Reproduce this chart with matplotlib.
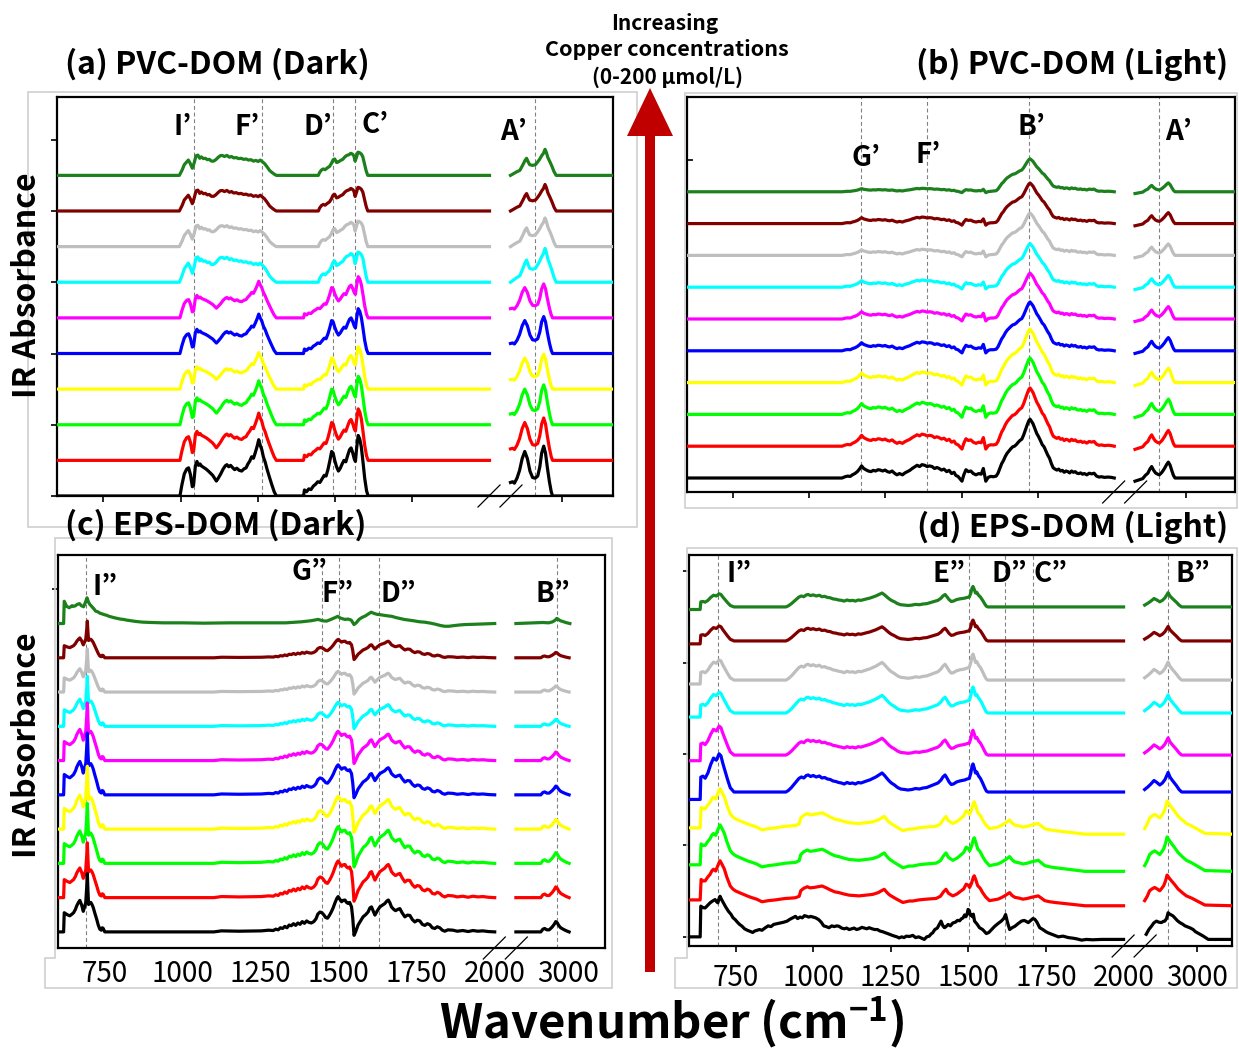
import numpy as np
import matplotlib
matplotlib.use("Agg")
import matplotlib.pyplot as plt
from matplotlib.patches import FancyArrow, Polygon

plt.rcParams["font.family"] = ["Noto Sans CJK KR", "DejaVu Sans"]
plt.rcParams["mathtext.fontset"] = "custom"
plt.rcParams["mathtext.rm"] = "Noto Sans CJK KR"
plt.rcParams["mathtext.bf"] = "Noto Sans CJK KR:bold"

W, H, DPI = 1239, 1051, 100
NaN = np.nan

# trace colours, bottom (0 umol/L) to top (200 umol/L)
COLORS = ["#000000", "#ff0000", "#00ff00", "#ffff00", "#0000ff",
          "#ff00ff", "#00ffff", "#bebebe", "#800000", "#1c801c"]

# ---------------- (a) PVC-DOM, dark ----------------
A_LOW = [(600, 0), (998, 0), (1004, .30), (1012, .62), (1020, .76), (1026, .79), (1032, .60),
         (1038, .26), (1042, .30), (1048, .85), (1053, .97), (1058, .86), (1063, .90), (1068, .84),
         (1075, .80), (1082, .76), (1090, .70), (1097, .64), (1104, .58), (1110, .50), (1116, .42),
         (1122, .50), (1130, .62), (1138, .76), (1145, .85), (1150, .88), (1156, .82), (1162, .86),
         (1168, .80), (1175, .74), (1182, .78), (1190, .72), (1198, .70), (1205, .76), (1212, .79),
         (1218, .90), (1224, .98), (1230, 1.10), (1236, 1.06), (1242, 1.22), (1248, 1.40),
         (1253, 1.58), (1258, 1.42), (1263, 1.30), (1268, 1.10), (1274, .95), (1280, .75),
         (1288, .52), (1296, .30), (1303, .12), (1310, 0), (1398, 0), (1401, .17), (1408, .12),
         (1415, .20), (1422, .18), (1430, .28), (1437, .33), (1444, .40), (1451, .38), (1458, .48),
         (1465, .58), (1471, .56), (1477, .74), (1483, .98), (1489, 1.25), (1494, 1.20),
         (1499, 1.00), (1505, .82), (1511, .70), (1517, .78), (1523, .90), (1529, 1.00),
         (1535, .96), (1541, 1.14), (1547, 1.30), (1552, 1.35), (1557, 1.22), (1562, 1.05),
         (1566, .97), (1570, 1.35), (1575, 1.70), (1580, 1.60), (1585, 1.38), (1590, 1.00),
         (1596, .50), (1602, .15), (1607, 0), (2000, 0), (2400, NaN),
         (2800, .38), (2808, .40), (2815, .36), (2825, .50), (2835, .72), (2845, 1.05),
         (2855, 1.25), (2865, 1.05), (2875, .70), (2885, .52), (2895, .50), (2905, .56),
         (2913, .82), (2920, 1.20), (2928, 1.40), (2935, 1.20), (2942, .80), (2950, .40),
         (2957, .12), (2962, 0), (3200, 0)]
A_HIGH = [(600, 0), (996, 0), (1005, .15), (1012, .30), (1018, .36), (1025, .43), (1031, .34),
          (1038, .20), (1044, .35), (1050, .55), (1056, .57), (1062, .48), (1067, .52), (1074, .47),
          (1080, .48), (1087, .44), (1093, .45), (1100, .40), (1107, .40), (1114, .44), (1121, .50),
          (1128, .55), (1135, .56), (1142, .53), (1150, .56), (1158, .51), (1165, .53), (1172, .49),
          (1180, .50), (1188, .47), (1196, .48), (1204, .45), (1212, .46), (1220, .43), (1228, .44),
          (1236, .40), (1244, .42), (1251, .39), (1258, .43), (1265, .38), (1272, .33), (1280, .24),
          (1288, .14), (1296, .08), (1304, .03), (1310, 0), (1446, 0), (1450, .08), (1456, .15),
          (1462, .18), (1468, .16), (1475, .21), (1482, .25), (1488, .33), (1494, .44), (1499, .46),
          (1505, .36), (1511, .38), (1518, .42), (1525, .45), (1532, .52), (1538, .56), (1545, .58),
          (1551, .62), (1556, .60), (1561, .55), (1565, .40), (1569, .50), (1574, .65), (1579, .64),
          (1585, .60), (1590, .52), (1596, .30), (1601, .12), (1606, 0), (2000, 0), (2400, NaN),
          (2800, 0), (2812, .05), (2824, .10), (2836, .14), (2848, .30), (2856, .42), (2862, .48),
          (2868, .38), (2874, .30), (2885, .28), (2896, .30), (2905, .38), (2912, .45), (2920, .55),
          (2927, .62), (2933, .73), (2938, .65), (2944, .50), (2952, .38), (2960, .25), (2968, .10),
          (2976, 0), (3200, 0)]
A_SHAPE = ["low"] * 6 + ["high"] * 4
A_SCALE_LO = [1.0, 0.84, 0.78, 0.65, 0.70, 0.65, 1.25, 1.05, 1.03, 1.0]
A_SCALE_HI = [1.0, 0.85, 0.80, 0.70, 0.74, 0.68, 1.30, 1.10, 1.02, 1.0]
A_OFFSET = [0, 1, 2, 3, 4, 5, 6, 7, 8, 9]
A_PEAKS = ["I’", "F’", "D’", "C’", "A’"]
A_PEAK_WN = [1045, 1263, 1494, 1565, 2894]

# ---------------- (b) PVC-DOM, light ----------------
B_LOW = [(600, 0), (1108, 0), (1118, .04), (1126, .06), (1135, .05), (1142, .10), (1150, .14),
         (1158, .20), (1165, .28), (1172, .38), (1179, .30), (1186, .26), (1194, .22), (1203, .20),
         (1210, .24), (1218, .22), (1226, .26), (1233, .25), (1241, .22), (1249, .25), (1257, .20),
         (1264, .18), (1272, .22), (1280, .15), (1288, .10), (1296, .14), (1306, .10), (1314, .16),
         (1322, .20), (1330, .24), (1338, .30), (1346, .35), (1354, .40), (1362, .36), (1370, .42),
         (1379, .40), (1387, .36), (1395, .38), (1403, .36), (1411, .30), (1419, .33), (1426, .30),
         (1434, .25), (1442, .28), (1451, .20), (1459, .24), (1467, .14), (1475, .18), (1481, .08),
         (1488, .05), (1494, -.02), (1501, -.10), (1507, .10), (1514, .26), (1522, .20),
         (1530, .22), (1538, .14), (1547, .10), (1556, .14), (1564, .12), (1571, .30), (1575, .10),
         (1579, -.10), (1587, .02), (1595, .05), (1604, .04), (1613, .06), (1619, .15), (1625, .30),
         (1631, .45), (1637, .55), (1643, .68), (1649, .78), (1655, .85), (1661, .92), (1667, .98),
         (1673, 1.00), (1679, 1.05), (1685, 1.12), (1691, 1.18), (1697, 1.22), (1703, 1.35),
         (1709, 1.52), (1715, 1.68), (1720, 1.80), (1724, 1.85), (1729, 1.78), (1734, 1.70),
         (1740, 1.55), (1746, 1.40), (1752, 1.30), (1758, 1.18), (1764, 1.05), (1770, .98),
         (1776, .85), (1782, .72), (1788, .62), (1794, .45), (1800, .32), (1806, .28), (1812, .25),
         (1818, .28), (1824, .22), (1830, .24), (1836, .18), (1842, .22), (1848, .20), (1854, .16),
         (1860, .22), (1866, .18), (1872, .20), (1878, .15), (1884, .14), (1890, .16), (1896, .12),
         (1902, .14), (1910, .10), (1918, .15), (1926, .13), (1934, .15), (1942, .06), (1950, .03),
         (1958, .04), (1968, .02), (1980, .03), (1990, .02), (2000, 0), (2400, NaN),
         (2800, -.10), (2815, -.06), (2830, -.02), (2840, .08), (2850, .15), (2858, .28),
         (2865, .36), (2872, .25), (2880, .16), (2888, .12), (2895, .10), (2905, .18), (2915, .30),
         (2923, .42), (2930, .50), (2937, .40), (2944, .22), (2950, .08), (2956, 0), (3200, 0)]
B_SHAPE = ["low"] * 10
B_SCALE_LO = [1.0, 0.90, 0.90, 0.80, 0.67, 0.60, 0.54, 0.46, 0.49, 0.26]
B_SCALE_HI = [1.0, 0.99, 0.96, 0.91, 0.83, 0.78, 0.74, 0.72, 0.69, 0.56]
B_OFFSET = [0, 1, 2, 3, 4, 5, 6, 7, 8, 9]
B_PEAKS = ["G’", "F’", "B’", "A’"]
B_PEAK_WN = [1171, 1386, 1722, 2893]

# ---------------- (c) EPS-DOM, dark ----------------
C_LOW = [(600, 0), (618, 0), (620, .56), (630, .50), (638, .47), (645, .52), (650, .56), (656, .66),
         (660, .76), (665, .85), (670, .92), (676, .78), (681, .60), (685, .72), (689, .86),
         (692, 1.30), (694, 1.70), (696, 1.20), (698, .80), (702, .84), (705, .86), (709, .80),
         (713, .71), (718, .55), (724, .37), (729, .20), (734, .08), (739, .05), (742, .12),
         (745, .10), (750, 0), (1100, 0), (1124, .03), (1180, .02), (1252, .03), (1275, .05),
         (1290, .04), (1298, .08), (1306, .06), (1313, .12), (1320, .10), (1327, .16), (1334, .12),
         (1341, .20), (1348, .18), (1355, .24), (1362, .19), (1369, .26), (1376, .22), (1383, .30),
         (1390, .25), (1397, .32), (1404, .28), (1412, .26), (1420, .30), (1427, .38), (1433, .52),
         (1440, .58), (1446, .56), (1452, .50), (1458, .42), (1464, .40), (1470, .48), (1476, .58),
         (1482, .70), (1488, .85), (1494, .98), (1498, 1.03), (1503, .96), (1509, .88), (1514, .92),
         (1520, .93), (1525, .86), (1530, .83), (1535, .86), (1541, .73), (1545, .40), (1549, -.10),
         (1554, 0), (1562, .20), (1570, .32), (1578, .44), (1586, .50), (1594, .58), (1600, .70),
         (1605, .73), (1610, .62), (1616, .49), (1624, .62), (1632, .73), (1640, .78), (1648, .83),
         (1654, .90), (1659, .93), (1664, .85), (1669, .73), (1676, .66), (1682, .62), (1690, .66),
         (1696, .68), (1703, .56), (1712, .44), (1720, .49), (1728, .48), (1736, .36), (1744, .29),
         (1752, .34), (1760, .32), (1768, .22), (1776, .19), (1784, .24), (1792, .21), (1800, .12),
         (1808, .10), (1816, .15), (1824, .12), (1832, .05), (1840, .02), (1850, .06), (1866, .05),
         (1880, .02), (1898, .04), (1915, .01), (1930, .04), (1946, .02), (1962, .03), (1980, .01),
         (2000, 0), (2400, NaN),
         (2800, 0), (2895, 0), (2903, .08), (2910, .10), (2918, .06), (2927, .06), (2938, .14),
         (2946, .22), (2952, .30), (2958, .26), (2964, .18), (2971, .12), (2980, .08), (2990, .04),
         (3003, 0)]
C_HIGH = [(600, 0), (618, 0), (620, .65), (628, .50), (636, .46), (645, .52), (650, .50), (656, .52),
          (662, .56), (669, .58), (675, .52), (682, .49), (688, .62), (693, .75), (698, .62),
          (702, .56), (708, .50), (714, .44), (721, .36), (728, .34), (735, .30), (742, .28),
          (748, .26), (756, .24), (764, .21), (772, .19), (780, .17), (790, .15), (800, .13),
          (810, .12), (820, .10), (835, .08), (850, .06), (872, .04), (900, .03), (937, .02),
          (1000, .02), (1068, .01), (1150, .02), (1250, .02), (1330, .02), (1380, .05), (1410, .08),
          (1434, .12), (1448, .08), (1461, .07), (1475, .12), (1490, .18), (1497, .21), (1505, .16),
          (1512, .14), (1520, .12), (1530, .13), (1540, .10), (1549, -.03), (1556, .02), (1565, .12),
          (1575, .18), (1585, .22), (1595, .28), (1604, .33), (1612, .30), (1622, .27), (1631, .26),
          (1645, .24), (1660, .22), (1670, .21), (1685, .17), (1700, .14), (1709, .12), (1725, .10),
          (1740, .08), (1760, .05), (1775, .04), (1795, .01), (1810, -.02), (1827, -.06),
          (1840, -.08), (1853, -.08), (1870, -.06), (1890, -.04), (1905, -.03), (1940, -.02),
          (1970, -.01), (2000, 0), (2400, NaN),
          (2800, 0), (2903, .03), (2925, .02), (2940, .05), (2950, .10), (2956, .15), (2962, .12),
          (2970, .08), (2979, .06), (2990, .03), (3006, 0)]
C_SHAPE = ["low"] * 9 + ["high"]
C_SCALE_LO = [1.0, 0.94, 1.03, 1.08, 1.06, 0.99, 0.86, 0.74, 0.63, 1.0]
C_SCALE_HI = [1.0, 1.04, 1.04, 0.93, 0.85, 0.83, 0.68, 0.59, 0.52, 1.0]
C_OFFSET = [0, 1, 2, 3, 4, 5, 6, 7, 8, 9]
C_PEAKS = ["I”", "G”", "F”", "D”", "B”"]
C_PEAK_WN = [691, 1445, 1500, 1628, 2958]

# ---------------- (d) EPS-DOM, light ----------------
D_LOW = [(600, 0), (636, 0), (638, .84), (645, .80), (652, .79), (660, .86), (668, .93), (676, .98),
         (684, 1.02), (689, .96), (693, .93), (697, 1.05), (700, 1.11), (705, 1.02), (711, .93),
         (718, .82), (727, .70), (735, .62), (742, .52), (749, .47), (756, .40), (763, .34),
         (771, .29), (779, .22), (788, .18), (797, .15), (805, .12), (812, .16), (819, .18),
         (827, .20), (835, .18), (846, .25), (855, .30), (864, .28), (873, .34), (884, .36),
         (894, .38), (905, .40), (916, .43), (925, .48), (934, .52), (943, .56), (950, .50),
         (958, .54), (965, .52), (972, .58), (980, .56), (986, .54), (992, .56), (1000, .54),
         (1008, .52), (1018, .47), (1026, .40), (1034, .30), (1042, .28), (1051, .25), (1060, .30),
         (1068, .28), (1076, .30), (1083, .29), (1092, .24), (1100, .22), (1108, .24), (1116, .20),
         (1124, .22), (1132, .24), (1140, .20), (1148, .22), (1157, .26), (1165, .24), (1173, .22),
         (1180, .25), (1190, .22), (1198, .20), (1207, .20), (1215, .16), (1224, .14), (1234, .11),
         (1243, .08), (1252, .05), (1262, .02), (1270, 0), (1277, -.03), (1285, 0), (1293, -.02),
         (1300, .02), (1310, .01), (1321, .04), (1330, -.02), (1340, 0), (1350, -.04), (1358, -.07),
         (1366, 0), (1374, .02), (1380, .08), (1385, .11), (1392, .20), (1400, .24), (1407, .35),
         (1412, .43), (1418, .30), (1423, .25), (1428, .28), (1435, .34), (1442, .30), (1450, .38),
         (1458, .40), (1465, .45), (1472, .44), (1477, .49), (1483, .52), (1488, .60), (1492, .55),
         (1496, .62), (1499, .75), (1503, .72), (1506, .60), (1509, .61), (1513, .55), (1516, .62),
         (1520, .43), (1528, .35), (1536, .25), (1546, .20), (1558, .09), (1566, .12), (1575, .20),
         (1585, .29), (1595, .36), (1606, .43), (1614, .50), (1620, .61), (1626, .40), (1633, .20),
         (1641, .25), (1650, .29), (1660, .36), (1671, .43), (1680, .45), (1687, .42), (1693, .39),
         (1700, .44), (1708, .50), (1714, .48), (1721, .40), (1730, .25), (1740, .20), (1750, .14),
         (1757, .11), (1766, .08), (1778, .04), (1790, 0), (1805, .02), (1822, -.02), (1840, -.04),
         (1852, -.06), (1865, -.09), (1880, -.07), (1900, -.08), (1930, -.07), (1965, -.07),
         (2000, -.07), (2400, NaN),
         (2806, .07), (2816, .20), (2826, .29), (2835, .38), (2845, .43), (2855, .40), (2864, .39),
         (2871, .42), (2877, .43), (2884, .50), (2890, .66), (2896, .62), (2902, .60), (2909, .57),
         (2918, .50), (2926, .44), (2935, .39), (2945, .35), (2955, .30), (2965, .27), (2976, .24),
         (2986, .20), (2995, .14), (3005, .10), (3012, .07), (3025, .02), (3044, -.07), (3140, -.07)]
D_MID = [(600, 0), (636, 0), (639, .56), (645, .52), (652, .52), (660, .62), (668, .70), (674, .80),
         (679, .84), (686, .79), (692, .92), (697, 1.02), (700, 1.07), (706, .98), (714, .84),
         (722, .62), (733, .38), (741, .30), (749, .25), (762, .20), (776, .15), (790, .10),
         (803, .06), (818, .02), (835, -.05), (856, -.02), (878, 0), (895, .02), (911, .04),
         (930, .05), (943, .06), (955, .10), (960, .25), (970, .32), (981, .36), (990, .33),
         (1002, .34), (1015, .36), (1029, .38), (1042, .33), (1056, .27), (1070, .22), (1083, .20),
         (1100, .16), (1116, .13), (1132, .12), (1148, .11), (1170, .13), (1191, .15), (1210, .20),
         (1222, .26), (1229, .29), (1236, .22), (1244, .15), (1251, .11), (1265, .04), (1278, -.02),
         (1289, -.07), (1300, -.05), (1310, -.03), (1321, -.03), (1340, 0), (1364, .02), (1380, .03),
         (1396, .04), (1410, .10), (1420, .22), (1428, .29), (1436, .18), (1450, .11), (1463, .16),
         (1477, .25), (1485, .30), (1493, .43), (1500, .40), (1504, .34), (1510, .45), (1516, .62),
         (1519, .66), (1524, .55), (1530, .39), (1538, .32), (1546, .20), (1556, .08), (1568, -.02),
         (1582, 0), (1595, .02), (1606, .06), (1617, .11), (1626, .16), (1633, .20), (1641, .12),
         (1650, .07), (1663, .05), (1676, .02), (1690, .04), (1703, .07), (1714, .09), (1725, .11),
         (1735, .05), (1746, -.02), (1762, -.05), (1779, -.07), (1800, -.09), (1822, -.11),
         (1850, -.14), (1876, -.16), (2000, -.16), (2400, NaN),
         (2800, -.02), (2810, .10), (2819, .25), (2828, .30), (2838, .34), (2848, .30), (2858, .25),
         (2866, .32), (2873, .39), (2880, .52), (2886, .68), (2894, .60), (2903, .52), (2915, .42),
         (2928, .30), (2944, .20), (2960, .11), (2980, .05), (2999, -.02), (3015, -.08),
         (3031, -.14), (3140, -.16)]
D_HIGH = [(600, -.07), (636, -.07), (638, .14), (645, .15), (652, .13), (661, .18), (670, .26),
          (679, .32), (688, .30), (697, .36), (703, .34), (709, .27), (716, .20), (724, .12),
          (733, .04), (745, 0), (912, 0), (920, .03), (930, .09), (942, .18), (954, .27), (962, .30),
          (970, .28), (978, .33), (984, .34), (992, .31), (1000, .33), (1010, .30), (1020, .32),
          (1028, .28), (1037, .29), (1046, .26), (1055, .25), (1064, .22), (1073, .21), (1082, .19),
          (1091, .18), (1100, .16), (1109, .19), (1118, .17), (1127, .18), (1136, .16), (1145, .19),
          (1154, .18), (1163, .20), (1172, .22), (1182, .24), (1192, .27), (1202, .30), (1212, .34),
          (1222, .38), (1230, .33), (1238, .27), (1245, .22), (1252, .18), (1262, .14), (1272, .09),
          (1282, .06), (1295, .05), (1305, .04), (1318, .05), (1330, .07), (1342, .06), (1354, .08),
          (1366, .09), (1378, .12), (1390, .15), (1402, .18), (1412, .24), (1418, .30), (1425, .34),
          (1431, .28), (1438, .20), (1445, .15), (1452, .16), (1462, .20), (1472, .22), (1480, .23),
          (1488, .24), (1496, .26), (1503, .27), (1508, .38), (1512, .52), (1515, .56), (1519, .48),
          (1523, .38), (1527, .40), (1533, .32), (1539, .27), (1546, .18), (1553, .08), (1558, .02),
          (1563, 0), (2000, 0), (2400, NaN),
          (2800, .05), (2812, .10), (2824, .16), (2836, .23), (2847, .19), (2858, .14), (2868, .18),
          (2878, .25), (2885, .33), (2890, .39), (2897, .30), (2905, .24), (2914, .18), (2923, .12),
          (2932, .05), (2942, 0), (3140, 0)]
D_SHAPE = ["low", "mid", "mid", "mid", "high", "high", "high", "high", "high", "high"]
D_SCALE_LO = [1.0, 1.0, 1.02, 1.0, 2.9, 2.2, 1.58, 1.53, 1.14, 1.0]
D_SCALE_HI = [1.0, 1.0, 1.12, 1.08, 1.37, 1.21, 1.27, 1.27, 1.02, 1.0]
D_OFFSET = [0, 1.01, 1.97, 2.98, 3.96, 4.97, 6.12, 7.02, 8.09, 9.02]
D_PEAKS = ["I”", "E”", "D”", "C”", "B”"]
D_PEAK_WN = [695, 1503, 1619, 1707, 2890]

TICK_WN = [750, 1000, 1250, 1500, 1750, 2000, 3000]

# broken wavenumber axis: 600-2000 linear, 2000-2800 squeezed into a small gap,
# 2800 onwards compressed
GAP, K2 = 68.0, 0.84


def fwd(x):
    x = np.asarray(x, dtype=float)
    return np.where(x <= 2000, x,
                    np.where(x >= 2800, 2000 + GAP + (x - 2800) * K2,
                             2000 + (x - 2000) * GAP / 800))


def inv(u):
    u = np.asarray(u, dtype=float)
    return np.where(u <= 2000, u,
                    np.where(u >= 2000 + GAP, 2800 + (u - 2000 - GAP) / K2,
                             2000 + (u - 2000) * 800 / GAP))


def px_box(x0, y0, x1, y1):
    return [x0 / W, 1 - y1 / H, (x1 - x0) / W, (y1 - y0) / H]


fig = plt.figure(figsize=(W / DPI, H / DPI), dpi=DPI)


def draw_panel(box, profiles, shapes, s_lo, s_hi, split, offsets, xmax, ylim,
               peaks, peak_wn, label_pos, yticks, tick_dir, show_xticks, show_labels):
    ax = fig.add_axes(px_box(*box))
    ax.set_xscale("function", functions=(fwd, inv))
    ax.set_xlim(600, xmax)
    ax.set_ylim(*ylim)
    for wn_line in peak_wn:
        ax.axvline(wn_line, color="#808080", lw=0.8, ls=(0, (3.5, 2.5)), zorder=1)
    n = len(offsets)
    for i in range(n - 1, -1, -1):
        wn, ab = np.array(profiles[shapes[i]], dtype=float).T
        y = np.where(wn < split, ab * s_lo[i], ab * s_hi[i]) + offsets[i]
        ax.plot(wn, y, color=COLORS[i], lw=2.3, zorder=10 + (n - i),
                solid_joinstyle="round")
    for lab, (lx, ly) in zip(peaks, label_pos):
        ax.text(lx, ly, lab, ha="center", va="center", fontsize=20,
                fontweight="bold", zorder=30)
    ax.set_yticks(yticks)
    ax.set_yticklabels([])
    ax.tick_params(axis="y", direction=tick_dir, length=4, width=1.2)
    ax.set_xticks(TICK_WN)
    if show_labels:
        ax.set_xticklabels([str(t) for t in TICK_WN], fontsize=20)
    else:
        ax.set_xticklabels([])
    ax.tick_params(axis="x", direction="out", length=4 if show_xticks else 0,
                   width=1.2, pad=8)
    if show_xticks:
        # no tick mark at the 2000 cut
        ax.xaxis.get_major_ticks()[5].tick1line.set_visible(False)
    for sp in ax.spines.values():
        sp.set_linewidth(1.6)
    return ax


ax_a = draw_panel((57, 97, 613, 496), {"low": A_LOW, "high": A_HIGH}, A_SHAPE,
                  A_SCALE_LO, A_SCALE_HI, 1350, A_OFFSET, 3195, (0, 11.2),
                  A_PEAKS, A_PEAK_WN,
                  [(1006, 10.37), (1214, 10.37), (1445, 10.37), (1630, 10.42), (2812, 10.23)],
                  [0, 2, 4, 6, 8, 10], "out", True, False)
ax_b = draw_panel((687, 97, 1235, 492), {"low": B_LOW}, B_SHAPE,
                  B_SCALE_LO, B_SCALE_HI, 1600, B_OFFSET, 3190, (-0.44, 11.98),
                  B_PEAKS, B_PEAK_WN,
                  [(1186, 10.06), (1391, 10.16), (1728, 11.05), (2969, 10.89)],
                  [10], "in", True, False)
ax_c = draw_panel((58, 555, 605, 948), {"low": C_LOW, "high": C_HIGH}, C_SHAPE,
                  C_SCALE_LO, C_SCALE_HI, 800, C_OFFSET, 3140, (-0.47, 11.0),
                  C_PEAKS, C_PEAK_WN,
                  [(751, 10.06), (1405, 10.5), (1497, 9.85), (1690, 9.85), (2941, 9.85)],
                  [10], "out", False, True)
ax_d = draw_panel((689, 555, 1232, 946), {"low": D_LOW, "mid": D_MID, "high": D_HIGH}, D_SHAPE,
                  D_SCALE_LO, D_SCALE_HI, 800, D_OFFSET, 3135, (-0.25, 10.44),
                  D_PEAKS, D_PEAK_WN,
                  [(763, 9.92), (1438, 9.92), (1632, 9.92), (1765, 9.92), (2985, 9.92)],
                  [0, 2.5, 5, 7.5, 10], "out", True, True)

# overlay in figure pixels for frames, arrow, break marks and captions
ov = fig.add_axes([0, 0, 1, 1], zorder=50)
ov.set_xlim(0, W)
ov.set_ylim(H, 0)
ov.axis("off")
ov.patch.set_alpha(0)

frame_kw = dict(closed=True, fill=False, edgecolor="#cfcfcf", lw=1.2)
ov.add_patch(Polygon([(28, 92), (637, 92), (637, 527), (28, 527)], **frame_kw))
ov.add_patch(Polygon([(685, 93), (1237, 93), (1237, 508), (685, 508)], **frame_kw))
ov.add_patch(Polygon([(55, 538), (612, 538), (612, 988), (45, 988), (45, 958), (55, 958)],
                     **frame_kw))
ov.add_patch(Polygon([(687, 548), (1237, 548), (1237, 988), (675, 988), (675, 958), (687, 958)],
                     **frame_kw))

# "//" marks across the bottom spine at the axis break
for ax in (ax_a, ax_b, ax_c, ax_d):
    xd = ax.transData.transform((2400, 0))[0] * W / fig.bbox.width
    yd = H - ax.transAxes.transform((0, 0))[1] * H / fig.bbox.height
    for dx in (-11, 11):
        ov.plot([xd + dx - 11, xd + dx + 11], [yd + 11, yd - 11], color="black", lw=0.9)

ov.add_patch(FancyArrow(650, 972, 0, -884, width=10, head_width=46, head_length=48,
                        length_includes_head=True, color="#c00000", lw=0))

txt = dict(fontweight="bold", va="center")
ov.text(665, 23, "Increasing", ha="center", fontsize=15, **txt)
ov.text(667, 50, "Copper concentrations", ha="center", fontsize=15.5, **txt)
ov.text(667, 77, "(0-200 μmol/L)", ha="center", fontsize=15, **txt)

ov.text(65, 64, "(a) PVC-DOM (Dark)", ha="left", fontsize=23, **txt)
ov.text(1228, 64, "(b) PVC-DOM (Light)", ha="right", fontsize=23, **txt)
ov.text(65, 525, "(c) EPS-DOM (Dark)", ha="left", fontsize=23, **txt)
ov.text(1228, 527, "(d) EPS-DOM (Light)", ha="right", fontsize=23, **txt)

ov.text(27, 285, "IR Absorbance", ha="center", rotation=90, fontsize=23, **txt)
ov.text(27, 745, "IR Absorbance", ha="center", rotation=90, fontsize=23, **txt)
ov.text(672, 1022, r"Wavenumber (cm$^{\mathbf{-1}}$)", ha="center", fontsize=34, **txt)

fig.savefig("out.png", dpi=DPI)
